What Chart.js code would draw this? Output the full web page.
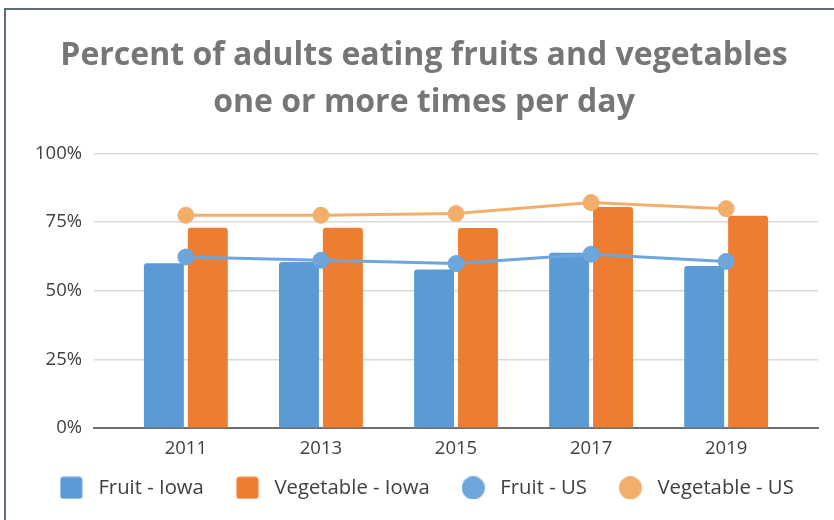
<!DOCTYPE html>
<html>
<head>
<meta charset="utf-8">
<script src="https://cdn.jsdelivr.net/npm/chart.js@4.4.1/dist/chart.umd.min.js"></script>
<style>
  html, body { margin: 0; padding: 0; background: #ffffff; }
  #wrap { position: relative; width: 834px; height: 520px; overflow: hidden; }
  #frame { position: absolute; left: 4px; top: 8px; width: 900px; height: 600px;
           border-left: 2px solid #5c6b80; border-top: 2px solid #5c6b80; pointer-events: none; }
  canvas { position: absolute; left: 0; top: 0; }
</style>
</head>
<body>
<div id="wrap">
  <canvas id="c" width="834" height="520"></canvas>
  <div id="frame"></div>
</div>
<script>
const years = ['2011', '2013', '2015', '2017', '2019'];
const fruitIowa = [60, 60.5, 57.8, 63.9, 59];
const vegIowa = [73, 73, 72.9, 80.5, 77.3];
const fruitUS = [62.3, 61.1, 59.9, 63.3, 60.7];
const vegUS = [77.5, 77.5, 78.1, 82.1, 79.9];
const yTicks = [0, 25, 50, 75, 100];
const titleLines = ['Percent of adults eating fruits and vegetables', 'one or more times per day'];

const toXY = arr => arr.map((v, i) => ({ x: i, y: v }));

function legendIcon(color, round) {
  const cv = document.createElement('canvas');
  cv.width = 23; cv.height = 23;
  const g = cv.getContext('2d');
  g.fillStyle = color;
  g.beginPath();
  if (round) {
    g.arc(11.5, 11.5, 11.5, 0, Math.PI * 2);
  } else {
    g.roundRect(0.5, 0.5, 22, 22, 3);
  }
  g.fill();
  return cv;
}

// let the x tick labels extend below the (short) axis box without being clipped
const labelRoom = {
  id: 'labelRoom',
  afterLayout(chart) {
    const sx = chart.scales.x;
    sx.bottom = sx.top + 40;
  }
};

const chart = new Chart(document.getElementById('c'), {
  data: {
    datasets: [
      { type: 'bar', label: 'Fruit - Iowa', data: toXY(fruitIowa), backgroundColor: '#5B9BD5',
        borderRadius: 3, borderSkipped: 'bottom', categoryPercentage: 0.65, barPercentage: 0.91, order: 2 },
      { type: 'bar', label: 'Vegetable - Iowa', data: toXY(vegIowa), backgroundColor: '#ED7D31',
        borderRadius: 3, borderSkipped: 'bottom', categoryPercentage: 0.65, barPercentage: 0.91, order: 2 },
      { type: 'line', label: 'Fruit - US', data: toXY(fruitUS), borderColor: '#6CA6DC', backgroundColor: '#6CA6DC',
        borderWidth: 3, pointRadius: 8, pointHoverRadius: 8, pointBorderWidth: 1, pointBackgroundColor: '#6CA6DC',
        pointBorderColor: '#6CA6DC', tension: 0, order: 1 },
      { type: 'line', label: 'Vegetable - US', data: toXY(vegUS), borderColor: '#F4AE6C', backgroundColor: '#F4AE6C',
        borderWidth: 3, pointRadius: 8, pointHoverRadius: 8, pointBorderWidth: 1, pointBackgroundColor: '#F4AE6C',
        pointBorderColor: '#F4AE6C', tension: 0, order: 1 }
    ]
  },
  plugins: [labelRoom],
  options: {
    responsive: false,
    animation: false,
    layout: { padding: { left: 14, right: 0, top: 0, bottom: 12 } },
    scales: {
      x: {
        type: 'linear',
        offset: false,
        min: -0.68,
        max: 4.68,
        afterBuildTicks: s => { s.ticks = years.map((_, i) => ({ value: i })); },
        ticks: {
          callback: v => years[v],
          color: '#404040',
          font: { family: 'Open Sans', size: 18.5 },
          padding: 9,
          maxRotation: 0,
          autoSkip: false
        },
        grid: { display: false, drawTicks: false },
        border: { display: true, color: '#6e6e6e', width: 2 },
        afterFit: s => { s.height = 23; }
      },
      y: {
        min: 0,
        max: 100,
        afterBuildTicks: s => { s.ticks = yTicks.map(v => ({ value: v })); },
        ticks: {
          callback: v => v + '%',
          color: '#404040',
          font: { family: 'Open Sans', size: 18.5 },
          padding: 12
        },
        grid: { color: '#d9d9d9', lineWidth: 1.5, drawTicks: false },
        border: { display: false },
        afterFit: s => { s.width = 80; }
      },
      yRight: {
        position: 'right',
        display: true,
        ticks: { display: false },
        grid: { display: false, drawTicks: false },
        border: { display: false },
        afterFit: s => { s.width = 16; }
      }
    },
    plugins: {
      title: {
        display: true,
        text: titleLines,
        color: '#767676',
        font: { family: 'Open Sans', size: 32, weight: 'bold', lineHeight: 1.46 },
        padding: { top: 33, bottom: 27 }
      },
      legend: {
        position: 'bottom',
        labels: {
          usePointStyle: true,
          pointStyleWidth: 34,
          boxHeight: 22,
          padding: 26.5,
          color: '#404040',
          font: { family: 'Open Sans', size: 20.3 },
          sort: (a, b) => a.datasetIndex - b.datasetIndex,
          generateLabels: ch => Chart.defaults.plugins.legend.labels.generateLabels(ch).map(item => {
            const ds = ch.data.datasets[item.datasetIndex];
            item.pointStyle = legendIcon(ds.backgroundColor, ds.type !== 'bar');
            item.fillStyle = ds.backgroundColor;
            item.strokeStyle = ds.backgroundColor;
            item.lineWidth = 0;
            return item;
          })
        }
      },
      tooltip: { enabled: false }
    }
  }
});
</script>
</body>
</html>
